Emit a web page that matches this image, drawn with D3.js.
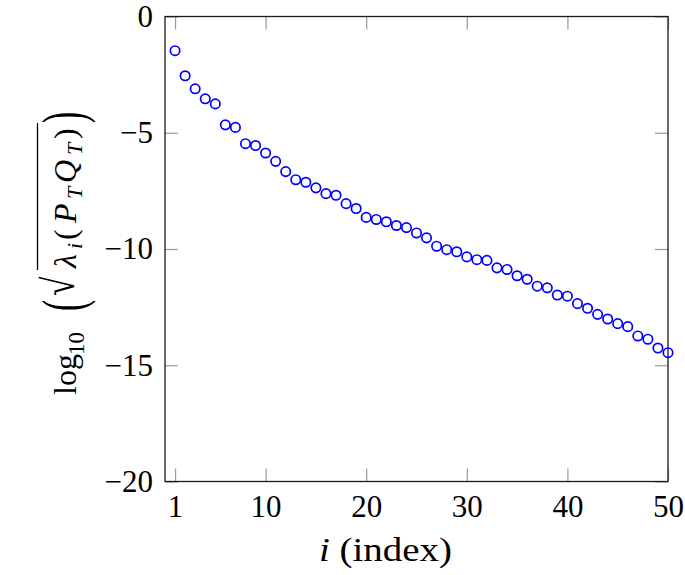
<!DOCTYPE html>
<html>
<head>
<meta charset="utf-8">
<script src="https://cdn.jsdelivr.net/npm/d3@7"></script>
<style>
  html, body { margin: 0; padding: 0; background: #fff; }
  svg { display: block; }
  text { font-family: "Liberation Serif", "DejaVu Serif", serif; fill: #000; }
</style>
</head>
<body>
<svg id="chart" width="685" height="575"></svg>
<script>
// ---- data ----
const indices = [1,2,3,4,5,6,7,8,9,10,11,12,13,14,15,16,17,18,19,20,21,22,23,24,25,
                 26,27,28,29,30,31,32,33,34,35,36,37,38,39,40,41,42,43,44,45,46,47,48,49,50];
const logSingularValues = [
  -1.47, -2.55, -3.11, -3.54, -3.76, -4.66, -4.77, -5.47, -5.55, -5.87,
  -6.23, -6.67, -7.02, -7.13, -7.37, -7.62, -7.69, -8.05, -8.26, -8.64,
  -8.73, -8.83, -8.99, -9.08, -9.31, -9.52, -9.88, -10.03, -10.12, -10.34,
  -10.46, -10.49, -10.81, -10.88, -11.15, -11.30, -11.60, -11.67, -11.98, -12.03,
  -12.35, -12.55, -12.81, -13.01, -13.21, -13.34, -13.74, -13.88, -14.26, -14.46
];
const xTicks = [1, 10, 20, 30, 40, 50];
const yTicks = [0, -5, -10, -15, -20];
const xDomain = [0, 50];
const yDomain = [-20, 0];

// ---- layout ----
(function () {
const pLeft = 165, pRight = 668, pTop = 16.5, pBottom = 481.5;
const svg = d3.select("#chart");

const x = d3.scaleLinear().domain(xDomain).range([pLeft, pRight]);
const y = d3.scaleLinear().domain(yDomain).range([pBottom, pTop]);

const tickLen = 13;
const fontSize = 31;

function styleAxis(g) {
  g.select(".domain").remove();
  g.selectAll(".tick line").attr("stroke", "#9a9a9a").attr("stroke-width", 1.2);
  g.selectAll(".tick text").attr("font-size", fontSize).attr("font-family", "Liberation Serif");
}

const fmt = d => (d < 0 ? "\u2212" + Math.abs(d) : String(d));

svg.append("g").attr("transform", `translate(0,${pBottom})`)
  .call(d3.axisBottom(x).tickValues(xTicks).tickSize(-tickLen).tickPadding(13).tickFormat(fmt))
  .call(styleAxis);
svg.append("g").attr("transform", `translate(0,${pTop})`)
  .call(d3.axisTop(x).tickValues(xTicks).tickSize(-tickLen).tickFormat(""))
  .call(styleAxis);
svg.append("g").attr("transform", `translate(${pLeft},0)`)
  .call(d3.axisLeft(y).tickValues(yTicks).tickSize(-tickLen).tickPadding(12).tickFormat(fmt))
  .call(styleAxis);
svg.append("g").attr("transform", `translate(${pRight},0)`)
  .call(d3.axisRight(y).tickValues(yTicks).tickSize(-tickLen).tickFormat(""))
  .call(styleAxis);

// frame
svg.append("rect")
  .attr("x", pLeft).attr("y", pTop)
  .attr("width", pRight - pLeft).attr("height", pBottom - pTop)
  .attr("fill", "none").attr("stroke", "#1a1a1a").attr("stroke-width", 1.3);

// markers
svg.append("g").selectAll("circle")
  .data(logSingularValues)
  .join("circle")
  .attr("cx", (d, i) => x(indices[i]))
  .attr("cy", d => y(d))
  .attr("r", 4.7)
  .attr("fill", "none")
  .attr("stroke", "#0000ff")
  .attr("stroke-width", 1.7);

// x label
const xl = svg.append("text")
  .attr("x", 319).attr("y", 561)
  .attr("font-size", 33)
  .attr("textLength", 133).attr("lengthAdjust", "spacingAndGlyphs");
xl.append("tspan").attr("font-style", "italic").text("i");
xl.append("tspan").text(" (index)");

// y label: log10( sqrt( lambda_i(P_T Q_T) ) ), rotated
const yl = svg.append("g").attr("transform", "translate(76,395) rotate(-90)");
const main = 32, sub = 22;
function piece(t, u, opts = {}) {
  return yl.append("text")
    .attr("x", u).attr("y", opts.v || 0)
    .attr("font-size", opts.size || main)
    .attr("font-style", opts.italic ? "italic" : "normal")
    .text(t);
}
// place a glyph starting at u0, stretched only across the baseline to span [v0,v1]
function stretched(t, u0, v0, v1, sx) {
  const el = yl.append("text").attr("font-size", main).text(t);
  const b = el.node().getBBox();
  const sy = (v1 - v0) / b.height;
  el.attr("transform", `translate(${u0 - b.x * sx},${v0 - b.y * sy}) scale(${sx},${sy})`);
  return el;
}
piece("log", 0);
piece("10", 40, { size: sub + 1, v: 8 });
stretched("(", 84, -47, 20, 1.05);
stretched("\u221A", 99, -42, 8, 1.1);
yl.append("line")
  .attr("x1", 125).attr("x2", 272)
  .attr("y1", -38.5).attr("y2", -38.5)
  .attr("stroke", "#000").attr("stroke-width", 1.3);
piece("\u03BB", 127, { italic: true });
piece("i", 146, { italic: true, size: sub, v: 6 });
piece("(", 155);
piece("P", 172, { italic: true });
piece("T", 196, { italic: true, size: sub, v: 6 });
piece("Q", 212, { italic: true });
piece("T", 240, { italic: true, size: sub, v: 6 });
piece(")", 256);
stretched(")", 272, -47, 20, 1.05);
})();
</script>
</body>
</html>
